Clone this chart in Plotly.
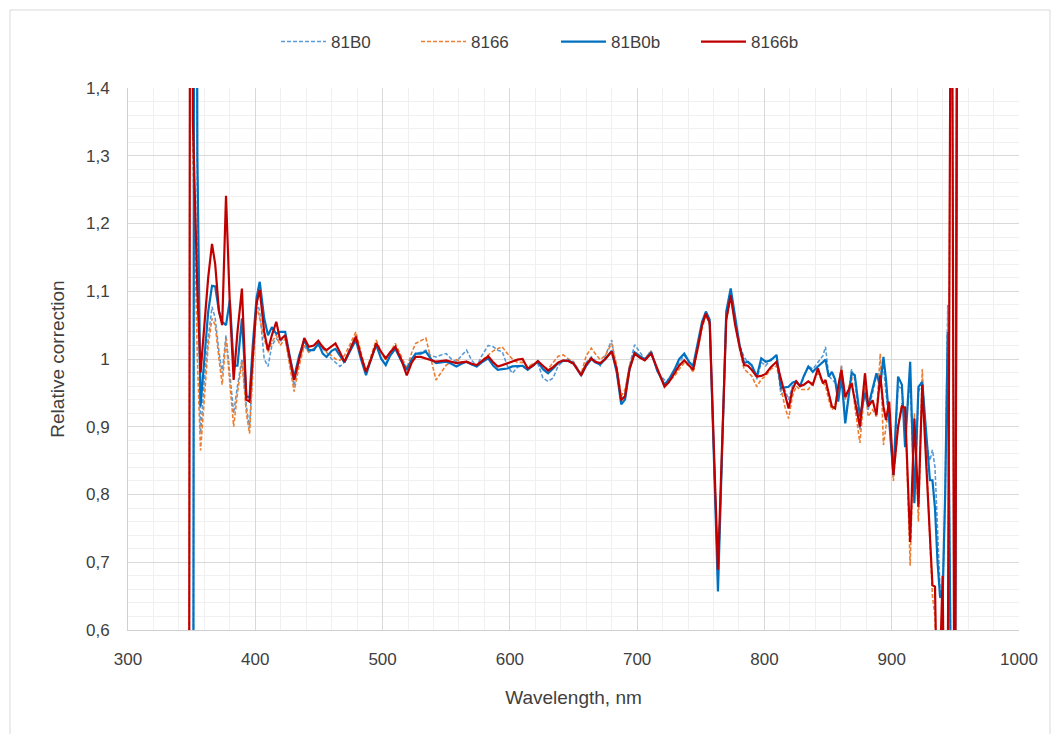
import plotly.graph_objects as go

wavelength = [
    347.5, 349.5, 351, 352.5, 354.5, 357, 360, 363, 366, 368.5, 371.5, 374, 377, 380, 383, 386, 389.5,
    393, 395.5, 398, 401, 403.5, 407, 410, 413, 416.5, 419.5, 423.5, 427, 430.5, 434.5, 438.5, 442, 446,
    449.5, 453,
    456, 460, 463, 466.5, 470, 474, 479, 483, 487, 491, 495, 499, 502.5, 506, 510, 514.5, 519, 523, 526,
    530, 534, 538, 542, 546, 550, 554, 558, 562, 566, 570, 574, 578, 583, 587, 590.5, 594, 598, 602, 606,
    610, 614, 618, 622, 626, 630, 634, 638, 642, 646, 650, 656, 660, 664, 667, 671, 675, 680, 684, 687.5,
    690.5, 694, 698, 702, 706, 711, 716, 721.5, 725, 729.5, 733, 737, 741, 744, 748, 751, 754, 757, 763.5,
    770, 773.5, 777, 780.5, 784, 787, 790, 794, 797.5, 801, 805, 809.5, 813, 816, 819, 822, 825,
    828, 831, 834.5, 838, 842, 846, 848, 850.5, 853, 855.5, 858, 860.5, 863.5, 868.5, 871, 875, 879, 881.5,
    885, 888, 891, 893.5, 895.5, 898, 901.3, 905, 908, 910.5, 914.5, 917.8, 921, 924, 927, 930, 932, 934,
    936, 938, 940, 942, 944, 947, 949.5, 952,
]

s_81B0b = [
    -0.5, -0.5, -0.3, 3.0, 1.3, 0.93, 1.0, 1.07, 1.108, 1.107, 1.07, 1.055, 1.05, 1.087, 0.99, 0.99, 1.06,
    0.945, 0.943, 1.02, 1.09, 1.114, 1.06, 1.035, 1.047, 1.037, 1.04, 1.04, 1.005, 0.973, 1.005, 1.028, 1.013, 1.013,
    1.023, 1.008,
    1.003, 1.012, 1.015, 1.005, 0.995, 1.01, 1.028, 1.0, 0.976, 1.0, 1.021, 1.0, 0.991, 1.005, 1.015, 0.998, 0.984, 1.0, 1.008,
    1.008, 1.011, 1.0, 0.994, 0.995, 0.996, 0.993, 0.989, 0.993, 0.996, 0.992, 0.989, 0.995, 1.001, 0.99, 0.984, 0.985, 0.986, 0.989, 0.99,
    0.99, 0.984, 0.99, 0.996, 0.985, 0.979, 0.986, 0.994, 0.997, 0.998, 0.994, 0.976, 0.99, 1.0, 0.995, 0.992, 1.0, 1.012, 0.98, 0.933,
    0.94, 0.985, 1.01, 1.004, 0.999, 1.01, 0.982, 0.962, 0.97, 0.985, 1.0, 1.008, 0.995, 0.99, 1.025, 1.055, 1.07, 1.058, 0.657,
    1.07, 1.104, 1.06, 1.02, 0.994, 0.996, 0.991, 0.974, 1.001, 0.996, 0.998, 1.006, 0.957, 0.958, 0.959, 0.965, 0.967,
    0.96, 0.975, 0.989, 0.981, 0.989, 0.996, 0.999, 0.974, 0.981, 0.97, 0.937, 0.974, 0.905, 0.979, 0.976, 0.915, 0.95, 0.93,
    0.955, 0.979, 0.96, 1.003, 0.97, 0.905, 0.829, 0.974, 0.962, 0.87, 0.996, 0.787, 0.959, 0.966, 0.89, 0.821, 0.821, 0.78,
    0.70, 0.649, 0.648, 0.8, 1.04, 0.4, 0.3, 2.0,
]

s_8166b = [
    -0.5, 3.0, 1.35, 1.25, 1.1, 0.98, 1.05, 1.12, 1.17, 1.14, 1.07, 1.05, 1.241, 1.08, 0.969, 1.04, 1.104,
    0.94, 0.937, 1.0, 1.082, 1.102, 1.04, 1.013, 1.035, 1.055, 1.028, 1.035, 1.0, 0.969, 1.0, 1.031, 1.018, 1.02,
    1.027, 1.017,
    1.013, 1.018, 1.023, 1.01, 0.996, 1.012, 1.033, 1.005, 0.981, 1.0, 1.023, 1.01, 1.001, 1.01, 1.018, 1.0, 0.976, 0.995, 1.003,
    1.003, 1.001, 0.999, 0.996, 0.997, 0.998, 0.996, 0.994, 0.995, 0.996, 0.993, 0.991, 0.997, 1.004, 0.995, 0.989, 0.991, 0.994, 0.997, 0.999,
    1.0, 0.986, 0.99, 0.997, 0.99, 0.983, 0.988, 0.995, 0.998, 0.997, 0.993, 0.976, 0.992, 1.001, 0.996, 0.994, 1.0, 1.011, 0.985, 0.939,
    0.945, 0.985, 1.008, 1.002, 0.998, 1.008, 0.985, 0.959, 0.966, 0.979, 0.99, 0.998, 0.99, 0.984, 1.02, 1.05, 1.067, 1.053, 0.689,
    1.058, 1.094, 1.05, 1.018, 0.991, 0.99, 0.984, 0.974, 0.975, 0.978, 0.988, 0.996, 0.969, 0.95, 0.927, 0.955, 0.967,
    0.96, 0.962, 0.967, 0.962, 0.986, 0.964, 0.969, 0.95, 0.93, 0.927, 0.96, 0.984, 0.944, 0.964, 0.94, 0.9, 0.979, 0.93,
    0.939, 0.917, 0.976, 0.93, 0.91, 0.937, 0.829, 0.9, 0.93, 0.928, 0.73, 0.912, 0.782, 0.962, 0.85, 0.75, 0.666, 0.664,
    0.45, 0.55, 0.68, 0.3, 0.5, 1.9, 0.2, 2.0,
]

s_81B0 = [
    -0.5, -0.5, -0.3, 3.0, 1.2, 0.89, 0.97, 1.03, 1.077, 1.06, 1.01, 0.979, 1.035, 0.98, 0.92, 0.96, 1.0,
    0.93, 0.898, 0.99, 1.087, 1.07, 1.0, 0.989, 1.02, 1.03, 1.025, 1.035, 1.0, 0.96, 1.0, 1.02, 1.01, 1.015,
    1.02, 1.015,
    1.01, 1.0, 0.995, 0.989, 0.995, 1.015, 1.035, 1.005, 0.979, 1.0, 1.02, 1.0, 0.994, 1.005, 1.018, 1.0, 0.984, 1.0, 1.008,
    1.01, 1.013, 1.005, 1.003, 1.006, 1.008, 1.0, 0.996, 1.005, 1.013, 0.998, 0.989, 1.005, 1.02, 1.018, 1.013, 1.011, 0.99, 0.979, 0.988,
    0.99, 0.985, 0.992, 0.993, 0.972, 0.967, 0.972, 0.99, 0.997, 0.996, 0.993, 0.977, 0.995, 1.003, 0.998, 0.99, 1.005, 1.028, 0.98, 0.937,
    0.95, 0.99, 1.021, 1.01, 1.0, 1.012, 0.98, 0.969, 0.97, 0.98, 0.995, 1.005, 0.995, 0.988, 1.02, 1.05, 1.068, 1.055, 0.665,
    1.065, 1.1, 1.055, 1.02, 1.003, 0.995, 0.99, 0.97, 0.995, 0.99, 1.0, 1.005, 0.947, 0.955, 0.94, 0.96, 0.965,
    0.96, 0.975, 0.99, 0.985, 0.995, 1.005, 1.018, 0.975, 0.97, 0.965, 0.95, 0.991, 0.91, 0.985, 0.97, 0.895, 0.955, 0.925,
    0.95, 0.975, 0.98, 0.99, 0.95, 0.91, 0.825, 0.96, 0.955, 0.89, 0.97, 0.79, 0.95, 0.97, 0.88, 0.85, 0.866, 0.84,
    0.75, 0.66, 0.65, 0.8, 1.08, 0.4, 0.3, 2.0,
]

s_8166 = [
    -0.5, 3.0, 1.3, 1.15, 1.0, 0.865, 0.95, 1.02, 1.06, 1.05, 1.0, 0.962, 1.03, 0.97, 0.90, 0.95, 0.996,
    0.92, 0.89, 0.98, 1.077, 1.06, 1.03, 1.01, 1.025, 1.035, 1.02, 1.03, 0.99, 0.952, 0.99, 1.02, 1.01, 1.015,
    1.02, 1.02,
    1.01, 1.005, 1.0, 0.998, 1.005, 1.02, 1.04, 1.01, 0.981, 1.005, 1.028, 1.01, 0.998, 1.01, 1.023, 1.005, 0.986, 1.01, 1.023,
    1.027, 1.031, 1.0, 0.969, 0.98, 0.991, 0.995, 0.999, 0.996, 0.994, 0.992, 0.991, 0.998, 1.006, 1.012, 1.015, 1.018, 1.008, 1.0, 0.995,
    0.995, 0.988, 0.993, 0.995, 0.99, 0.985, 0.995, 1.004, 1.006, 1.0, 0.996, 0.978, 1.005, 1.016, 1.008, 0.999, 1.005, 1.023, 0.99, 0.945,
    0.955, 0.99, 1.01, 1.005, 1.0, 1.012, 0.982, 0.962, 0.967, 0.975, 0.985, 0.994, 0.99, 0.98, 1.015, 1.045, 1.065, 1.05, 0.68,
    1.055, 1.09, 1.05, 1.015, 0.985, 0.98, 0.975, 0.959, 0.97, 0.975, 0.985, 0.99, 0.955, 0.93, 0.912, 0.945, 0.96,
    0.955, 0.955, 0.955, 0.965, 0.979, 0.965, 0.96, 0.94, 0.925, 0.93, 0.96, 0.989, 0.94, 0.974, 0.93, 0.876, 0.96, 0.915,
    0.925, 0.915, 1.008, 0.873, 0.9, 0.93, 0.82, 0.9, 0.935, 0.93, 0.695, 0.92, 0.76, 0.985, 0.86, 0.73, 0.65, 0.62,
    0.4, 0.5, 0.62, 0.3, 0.5, 1.9, 0.2, 2.0,
]

series = [
    ("81B0", s_81B0, "#5B9BD5", 1.6, "4px,2px"),
    ("8166", s_8166, "#ED7D31", 1.6, "4px,2px"),
    ("81B0b", s_81B0b, "#0070C0", 2.2, "solid"),
    ("8166b", s_8166b, "#C00000", 2.2, "solid"),
]

y_ticks = [0.6, 0.7, 0.8, 0.9, 1.0, 1.1, 1.2, 1.3, 1.4]
y_labels = ["0,6", "0,7", "0,8", "0,9", "1", "1,1", "1,2", "1,3", "1,4"]
x_ticks = [300, 400, 500, 600, 700, 800, 900, 1000]

FONT = "Liberation Sans Narrow, Liberation Sans, Arial, sans-serif"
TXT = "#404040"

fig = go.Figure()
for name, vals, color, width, dash in series:
    fig.add_trace(go.Scatter(
        x=wavelength, y=vals, name=name, mode="lines",
        line=dict(color=color, width=width, dash=dash),
    ))

L, R, T, B = 128, 37, 88, 104
W, H = 1056, 734
pw, ph = W - L - R, H - T - B

def px_to_paper_x(px):
    return (px - L) / pw

def py_to_paper_y(py):
    return (H - B - py) / ph

fig.update_layout(
    width=W, height=H,
    margin=dict(l=L, r=R, t=T, b=B),
    paper_bgcolor="white", plot_bgcolor="white",
    font=dict(family=FONT, size=16, color=TXT),
    showlegend=True,
    legend=dict(
        orientation="h", x=px_to_paper_x(556), xanchor="center",
        y=py_to_paper_y(42), yanchor="middle",
        font=dict(family=FONT, size=17, color=TXT),
        itemwidth=45, entrywidth=80, entrywidthmode="pixels",
        tracegroupgap=0, bgcolor="rgba(0,0,0,0)",
    ),
    xaxis=dict(
        range=[300, 1000], tickvals=x_ticks, showgrid=True,
        gridcolor="#D9D9D9", gridwidth=1,
        minor=dict(dtick=20, showgrid=True, gridcolor="#F0F0F0", gridwidth=1),
        zeroline=False, showline=True, linecolor="#D0D0D0", linewidth=1,
        ticks="", ticklabelstandoff=14, tickfont=dict(family=FONT, size=17, color=TXT),
        title=dict(text="Wavelength, nm", font=dict(family=FONT, size=19, color=TXT), standoff=22),
    ),
    yaxis=dict(
        range=[0.6, 1.4], tickvals=y_ticks, ticktext=y_labels, showgrid=True,
        gridcolor="#D9D9D9", gridwidth=1,
        minor=dict(dtick=0.02, tick0=0.6, showgrid=True, gridcolor="#F0F0F0", gridwidth=1),
        zeroline=False, showline=True, linecolor="#D0D0D0", linewidth=1,
        ticks="", ticklabelstandoff=14, tickfont=dict(family=FONT, size=17, color=TXT),
        title=dict(text="Relative correction", font=dict(family=FONT, size=19, color=TXT), standoff=16),
    ),
    shapes=[dict(
        type="rect", xref="paper", yref="paper",
        x0=px_to_paper_x(10), x1=px_to_paper_x(1050),
        y0=py_to_paper_y(760), y1=py_to_paper_y(10),
        line=dict(color="#D9D9D9", width=1), fillcolor="rgba(0,0,0,0)", layer="below",
    )],
)

fig.write_html("out.html")
